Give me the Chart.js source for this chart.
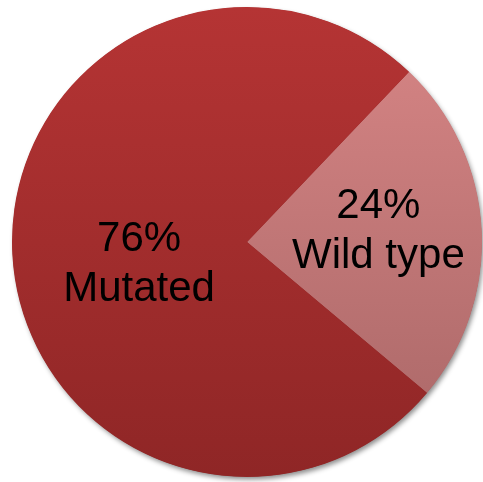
<!DOCTYPE html>
<html>
<head>
<meta charset="utf-8">
<script src="https://cdn.jsdelivr.net/npm/chart.js@4/dist/chart.umd.min.js"></script>
<style>
html,body{margin:0;padding:0;background:#fff;}
#wrap{width:483px;height:482px;}
</style>
</head>
<body>
<div id="wrap"><canvas id="c" width="483" height="482"></canvas></div>
<script>
const categories = ["Wild type", "Mutated"];
const values = [24, 76];
const percentLabels = ["24%", "76%"];
const topColors = ["#d88686", "#b53434"];
const bottomColors = ["#a86666", "#8f2626"];

function grad(ctx, i) {
  const chart = ctx.chart;
  const area = chart.chartArea;
  if (!area) return topColors[i];
  const g = chart.ctx.createLinearGradient(0, area.top, 0, area.bottom);
  g.addColorStop(0, topColors[i]);
  g.addColorStop(1, bottomColors[i]);
  return g;
}

const shadowPlugin = {
  id: 'shadow',
  beforeDatasetsDraw(chart) {
    const arc = chart.getDatasetMeta(0).data[0];
    if (!arc) return;
    const c = chart.ctx;
    c.save();
    c.shadowColor = 'rgba(0,0,0,0.45)';
    c.shadowBlur = 5;
    c.shadowOffsetX = 2;
    c.shadowOffsetY = 3;
    c.fillStyle = '#8f2626';
    c.beginPath();
    c.arc(arc.x, arc.y, arc.outerRadius - 0.5, 0, Math.PI * 2);
    c.fill();
    c.restore();
  }
};

const labelOffsets = [[0.56, -3], [0.46, 16]];
const labelPlugin = {
  id: 'labels',
  afterDatasetsDraw(chart) {
    const meta = chart.getDatasetMeta(0);
    const c = chart.ctx;
    c.save();
    c.font = '42px "Liberation Sans", Arial, sans-serif';
    c.fillStyle = '#000';
    c.textAlign = 'center';
    c.textBaseline = 'middle';
    meta.data.forEach((arc, i) => {
      const mid = (arc.startAngle + arc.endAngle) / 2;
      const r = arc.outerRadius * labelOffsets[i][0];
      const x = arc.x + Math.cos(mid) * r;
      const y = arc.y + Math.sin(mid) * r + labelOffsets[i][1];
      c.fillText(percentLabels[i], x, y - 25);
      c.fillText(categories[i], x, y + 25);
    });
    c.restore();
  }
};

new Chart(document.getElementById('c'), {
  type: 'pie',
  data: {
    labels: categories,
    datasets: [{
      data: values,
      backgroundColor: (ctx) => grad(ctx, ctx.dataIndex),
      borderWidth: 0
    }]
  },
  options: {
    responsive: false,
    animation: false,
    rotation: 43.6,
    layout: { padding: { left: 12, top: 7, right: 1, bottom: 5 } },
    plugins: { legend: { display: false }, tooltip: { enabled: false } }
  },
  plugins: [shadowPlugin, labelPlugin]
});
</script>
</body>
</html>
